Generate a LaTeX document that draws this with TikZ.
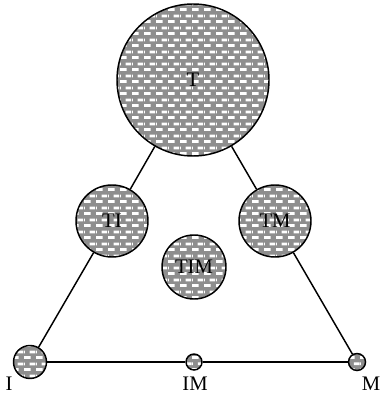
\documentclass[tikz,border=0pt]{standalone}
\usepackage{fontspec}
\setmainfont{Liberation Serif}
\usetikzlibrary{patterns}
\pgfdeclarepatternformonly{dashbricks}{\pgfpointorigin}{\pgfpoint{9pt}{9pt}}{\pgfpoint{9pt}{9pt}}{
	\pgfpathrectangle{\pgfpoint{0pt}{0pt}}{\pgfpoint{5.25pt}{2.25pt}}
	\pgfpathrectangle{\pgfpoint{4.5pt}{4.5pt}}{\pgfpoint{4.5pt}{2.25pt}}
	\pgfpathrectangle{\pgfpoint{0pt}{4.5pt}}{\pgfpoint{0.75pt}{2.25pt}}
	\pgfusepath{fill}
}
\definecolor{blobgray}{RGB}{142,142,142}
\tikzset{
	blob/.style={circle, line width=1.1pt, fill=blobgray, inner sep=0pt,
		minimum size=#1*0.75pt, postaction={pattern=dashbricks, pattern color=white},
		postaction={draw=black}, font=\fontsize{15.5}{18}\selectfont},
	tag/.style={font=\fontsize{15.5}{18}\selectfont, inner sep=0pt}
}
\begin{document}
\begin{tikzpicture}[x=0.75pt, y=-0.75pt]

			\useasboundingbox (0,0) rectangle (383,395);

			\node[blob=152] (T) at (193,80) {T};
			\node[blob=72] (TI) at (112,221) {TI};
			\node[blob=72] (TM) at (275,221) {TM};
			\node[blob=64] (TIM) at (194,267) {TIM};
			\node[blob=33] (I) at (30,362) {};
			\node[blob=16] (IM) at (194,362) {};
			\node[blob=17] (M) at (357,362) {};

			\begin{scope}[line width=1.1pt]
			\draw (T) -- (TI) -- (I);
			\draw (T) -- (TM) -- (M);
			\draw (I) -- (IM) -- (M);
			\end{scope}

			\node[tag] (lI) at (9,384) {I};
			\node[tag] (lIM) at (195,384) {IM};
			\node[tag] (lM) at (371,384) {M};

\end{tikzpicture}
\end{document}
